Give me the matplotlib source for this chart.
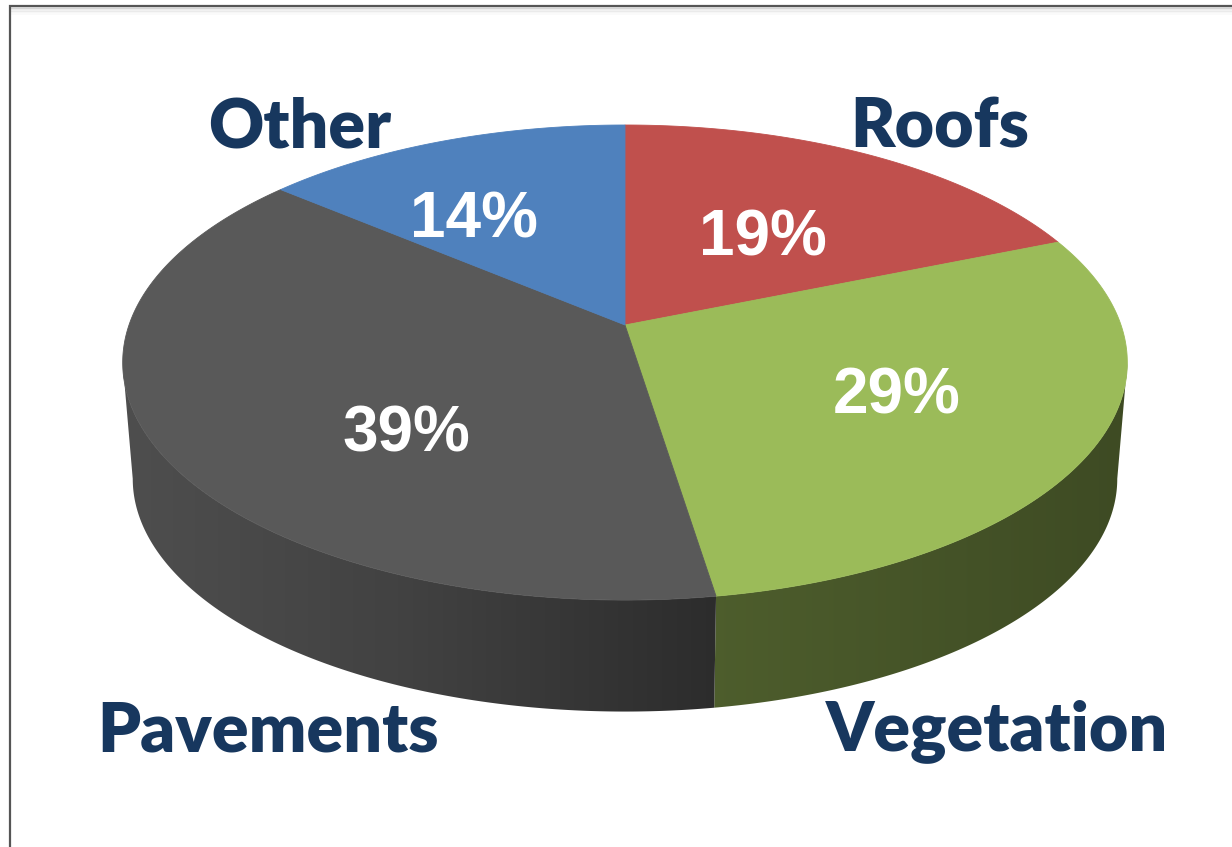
import numpy as np
import matplotlib
matplotlib.use("Agg")
import matplotlib.pyplot as plt
from matplotlib.patches import Polygon
from matplotlib.colors import to_rgb

# --- data -------------------------------------------------------------
categories = ["Roofs", "Vegetation", "Pavements", "Other"]
shares = [19, 29, 39, 14]
slice_colors = ["#C0504D", "#9BBB59", "#595959", "#4F81BD"]

# --- layout -----------------------------------------------------------
W, H = 1232, 847
CX, CY = 625, 325            # pie centre on the top face (pixels)
A, B, K = 496, 231.6, 0.158  # horizontal / vertical radius, perspective factor
DEPTH, SHRINK = 117, 0.98    # thickness of the disc and far-face shrink

cat_pos = [(940, 147), (997, 750), (268, 752), (300, 147)]    # baselines
pct_pos = [(763, 255), (897, 413), (406, 452), (474, 238)]    # baselines

LABEL_COLOR = "#17375E"

fig = plt.figure(figsize=(W / 100, H / 100), dpi=100)
ax = fig.add_axes([0, 0, 1, 1])
ax.set_xlim(0, W)
ax.set_ylim(H, 0)
ax.axis("off")


def top_xy(theta_deg, r=1.0):
    t = np.radians(theta_deg)
    u, v = r * np.sin(t), r * np.cos(t)
    d = 1 + K * v
    return CX + A * u / d, CY - B * v / d


def bottom_xy(theta_deg):
    x, y = top_xy(theta_deg)
    return CX + SHRINK * (x - CX), CY + DEPTH + SHRINK * (y - CY)


def side_shade(x):
    # light falls from the left: brighter on the left of the rim
    return np.interp(x, [120, 400, 713, 1125], [0.88, 0.74, 0.50, 0.40])


total = float(sum(shares))
bounds = np.concatenate([[0], np.cumsum(shares)]) * 360.0 / total

# silhouette angles of the visible front rim
th_right = np.degrees(np.arccos(-K))
th_left = 360 - th_right

# --- rim (side walls) -------------------------------------------------
for i, col in enumerate(slice_colors):
    s0 = max(bounds[i], th_right)
    s1 = min(bounds[i + 1], th_left)
    if s0 >= s1:
        continue
    th = np.linspace(s0, s1, 200)
    tx, ty = top_xy(th)
    bx, by = bottom_xy(th[::-1])
    pts = np.column_stack([np.concatenate([tx, bx]), np.concatenate([ty, by])])
    patch = Polygon(pts, closed=True, facecolor="none", edgecolor="none")
    ax.add_patch(patch)
    x0, x1 = pts[:, 0].min(), pts[:, 0].max()
    y0, y1 = pts[:, 1].min(), pts[:, 1].max()
    xs = np.linspace(x0, x1, 512)
    rgb = np.array(to_rgb(col))
    grad = np.clip(side_shade(xs)[:, None] * rgb[None, :], 0, 1)[None, :, :]
    im = ax.imshow(grad, extent=(x0, x1, y1, y0), aspect="auto",
                   interpolation="bilinear", zorder=1)
    im.set_clip_path(patch)

# --- top face -----------------------------------------------------------
for i, col in enumerate(slice_colors):
    th = np.linspace(bounds[i], bounds[i + 1], 300)
    ax_, ay_ = top_xy(th)
    pts = np.column_stack([np.concatenate([[CX], ax_]), np.concatenate([[CY], ay_])])
    ax.add_patch(Polygon(pts, closed=True, facecolor=col, edgecolor=col,
                         linewidth=0.6, zorder=2))

# --- labels -------------------------------------------------------------
for name, (x, y) in zip(categories, cat_pos):
    ax.text(x, y, name, ha="center", va="baseline", fontsize=49,
            fontweight="heavy", family="Lato", color=LABEL_COLOR, zorder=5)

for val, (x, y) in zip(shares, pct_pos):
    ax.text(x, y, f"{val}%", ha="center", va="baseline", fontsize=46,
            fontweight="bold", family="Liberation Sans", color="white", zorder=5)

# --- chart-area frame with a soft inner shadow -------------------------
for j, a in enumerate([0.10, 0.07, 0.05, 0.03, 0.02]):
    ax.plot([11, W + 5], [8 + j * 1.5, 8 + j * 1.5], color="black", alpha=a,
            lw=1.5, solid_capstyle="butt", zorder=6)
ax.plot([10, 10, W + 5], [H + 5, 6, 6], color="#555555", lw=1.6,
        solid_joinstyle="miter", zorder=7)

fig.savefig("out.png", dpi=100, facecolor="white")
